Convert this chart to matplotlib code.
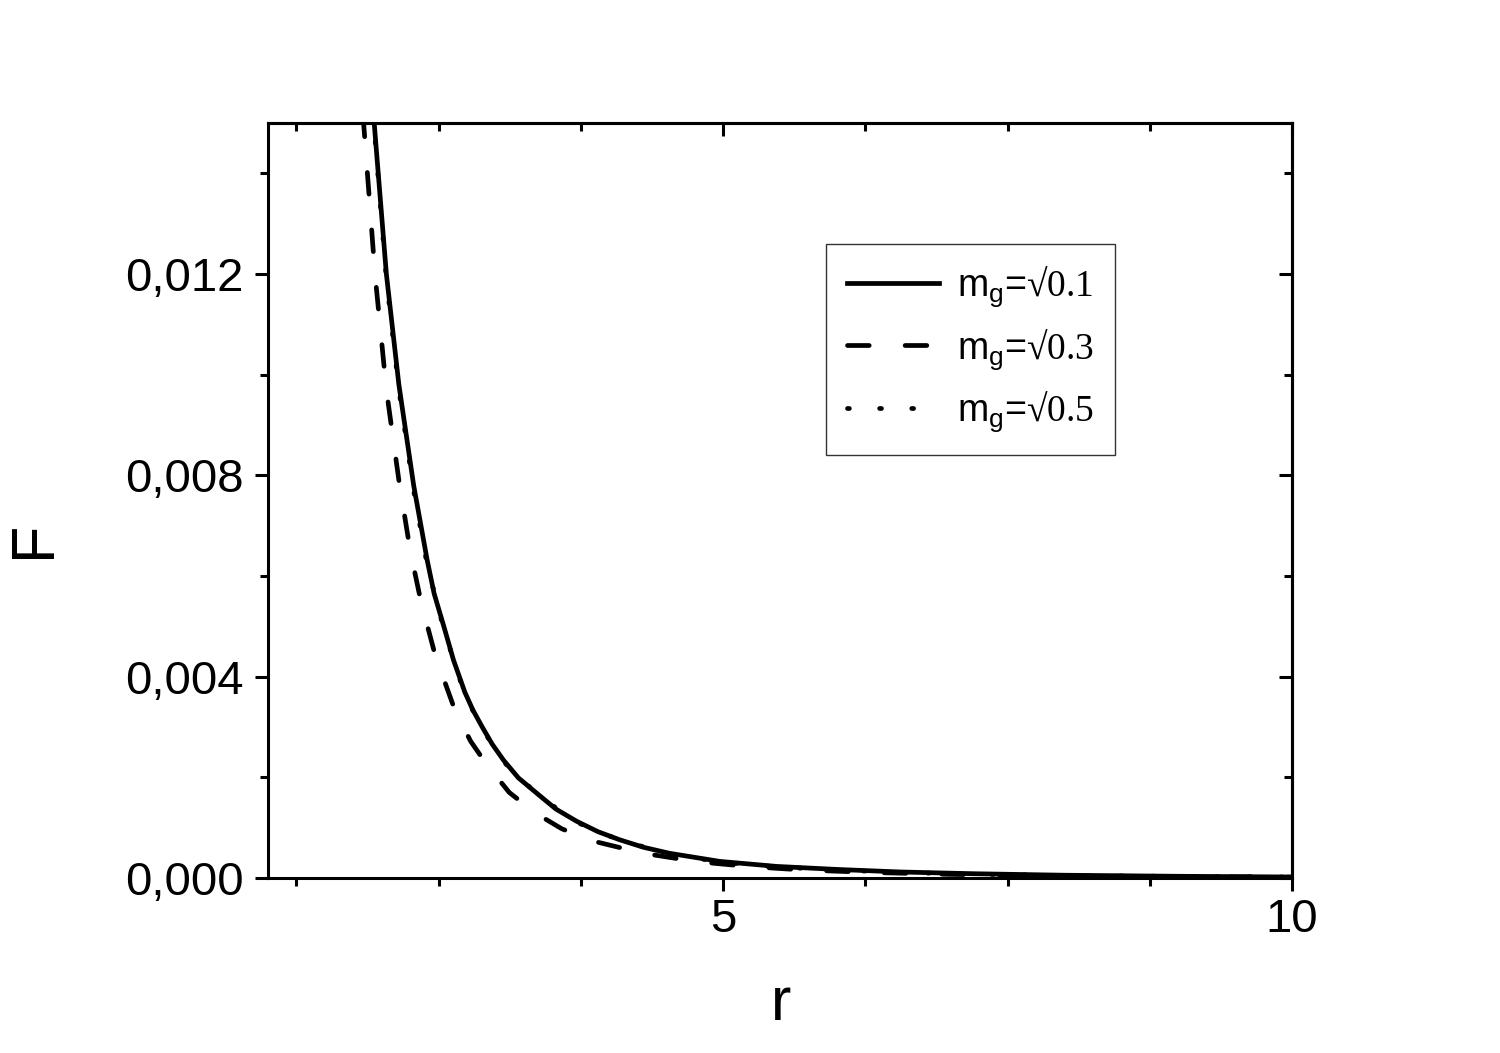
import matplotlib
matplotlib.use("Agg")
import matplotlib.pyplot as plt
from matplotlib.ticker import MultipleLocator, FuncFormatter

plt.rcParams['font.family'] = ['Liberation Sans', 'DejaVu Sans']
plt.rcParams['mathtext.fontset'] = 'custom'
plt.rcParams['mathtext.rm'] = 'Liberation Sans'
plt.rcParams['mathtext.sf'] = 'Liberation Serif'

# curves
r_01 = [1.90, 1.94, 2.04, 2.15, 2.28, 2.40, 2.46, 2.55, 2.63, 2.73, 2.80,
        2.88, 2.97, 3.07, 3.20, 3.38, 3.53, 3.71, 3.90, 4.09, 4.30, 4.53,
        4.97, 5.47, 6.00, 6.55, 7.20, 8.00, 9.00, 10.0]
F_01 = [0.0160, 0.0148, 0.0120, 0.0098, 0.0078, 0.0063, 0.00565, 0.00496,
        0.00433, 0.00369, 0.00334, 0.00301, 0.00266, 0.00234, 0.00199,
        0.00165, 0.00137, 0.00113, 0.00092, 0.00076, 0.00061, 0.00049,
        0.00033, 0.00023, 0.00017, 0.00012, 0.000085, 0.000055, 0.000034,
        0.000020]

r_03 = [1.80, 1.84, 1.94, 2.04, 2.15, 2.25, 2.345, 2.47, 2.64, 2.78, 2.92,
        3.12, 3.35, 3.58, 3.82, 4.30, 4.77, 5.24, 5.70, 6.30, 7.00, 8.00,
        9.00, 10.0]
F_03 = [0.0163, 0.0150, 0.0120, 0.0097, 0.0079, 0.0065, 0.00548, 0.00442,
        0.00335, 0.00272, 0.00226, 0.00170, 0.00129, 0.00098, 0.000754,
        0.00049, 0.000324, 0.000225, 0.000160, 0.000110, 0.000072,
        0.000042, 0.000026, 0.000016]

# third curve sits under the solid one
r_05 = [1.90, 1.94, 2.04, 2.15, 2.28, 2.40, 2.55, 2.73, 2.88, 3.07, 3.38,
        3.71, 4.09, 4.53, 4.97, 5.47, 6.00, 6.55, 7.20, 8.00, 9.00, 10.0]
F_05 = [0.0159, 0.0147, 0.0119, 0.0097, 0.0077, 0.0062, 0.00490, 0.00364,
        0.00297, 0.00231, 0.00163, 0.00111, 0.00075, 0.00048, 0.00032,
        0.00022, 0.00016, 0.00011, 0.000078, 0.000050, 0.000031, 0.000018]

labels = [r'm$_\mathregular{g}$=$\mathsf{√0.1}$',
          r'm$_\mathregular{g}$=$\mathsf{√0.3}$',
          r'm$_\mathregular{g}$=$\mathsf{√0.5}$']

fig = plt.figure(figsize=(15, 10.53), dpi=100)
ax = fig.add_axes([0.1787, 0.1662, 0.6826, 0.717])

lw = 3.4
l5, = ax.plot(r_05, F_05, color='black', lw=lw, linestyle=(0, (0.4, 6.4)),
              dash_capstyle='round', label=labels[2])
l3, = ax.plot(r_03, F_03, color='black', lw=lw, linestyle=(0, (4.6, 7.6)),
              dash_capstyle='round', label=labels[1])
l1, = ax.plot(r_01, F_01, color='black', lw=lw, linestyle='-',
              solid_joinstyle='round', label=labels[0])

ax.set_xlim(1, 10)
ax.set_ylim(0, 0.015)

ax.xaxis.set_major_locator(MultipleLocator(5))
ax.xaxis.set_minor_locator(MultipleLocator(1.25))
ax.yaxis.set_major_locator(MultipleLocator(0.004))
ax.yaxis.set_minor_locator(MultipleLocator(0.002))
ax.yaxis.set_major_formatter(FuncFormatter(lambda v, p: ('%.3f' % v).replace('.', ',')))
ax.xaxis.set_major_formatter(FuncFormatter(lambda v, p: '%d' % v))

for s in ax.spines.values():
    s.set_linewidth(2.2)

ax.tick_params(which='both', direction='out', width=2.2, labelsize=34)
ax.tick_params(which='major', length=9.4)
ax.tick_params(which='minor', length=5.8)
ax.tick_params(axis='y', which='major', pad=8)
ax.tick_params(axis='x', which='major', pad=5)

# mirrored ticks pointing inward
axr = ax.secondary_yaxis('right')
axr.yaxis.set_major_locator(MultipleLocator(0.004))
axr.yaxis.set_minor_locator(MultipleLocator(0.002))
axr.tick_params(which='both', direction='in', width=2.2, labelright=False)
axr.tick_params(which='major', length=9.4)
axr.tick_params(which='minor', length=5.8)
axr.spines['right'].set_linewidth(2.2)
axt = ax.secondary_xaxis('top')
axt.xaxis.set_major_locator(MultipleLocator(5))
axt.xaxis.set_minor_locator(MultipleLocator(1.25))
axt.tick_params(which='both', direction='in', width=2.2, labeltop=False)
axt.tick_params(which='major', length=9.4)
axt.tick_params(which='minor', length=5.8)
axt.spines['top'].set_linewidth(2.2)

ax.set_xlabel('r', fontsize=44)
ax.set_ylabel('F', fontsize=44)
ax.xaxis.set_label_coords(0.501, -0.13)
ax.yaxis.set_label_coords(-0.2, 0.449)

leg = ax.legend([l1, l3, l5], labels, loc='upper left',
                bbox_to_anchor=(0.545, 0.8397), borderaxespad=0, fontsize=27,
                frameon=True, fancybox=False, handlelength=2.45,
                handletextpad=0.5, labelspacing=0.47, borderpad=0.55)
leg.get_frame().set_edgecolor('black')
leg.get_frame().set_linewidth(1.0)

fig.savefig('out.png', dpi=100)
